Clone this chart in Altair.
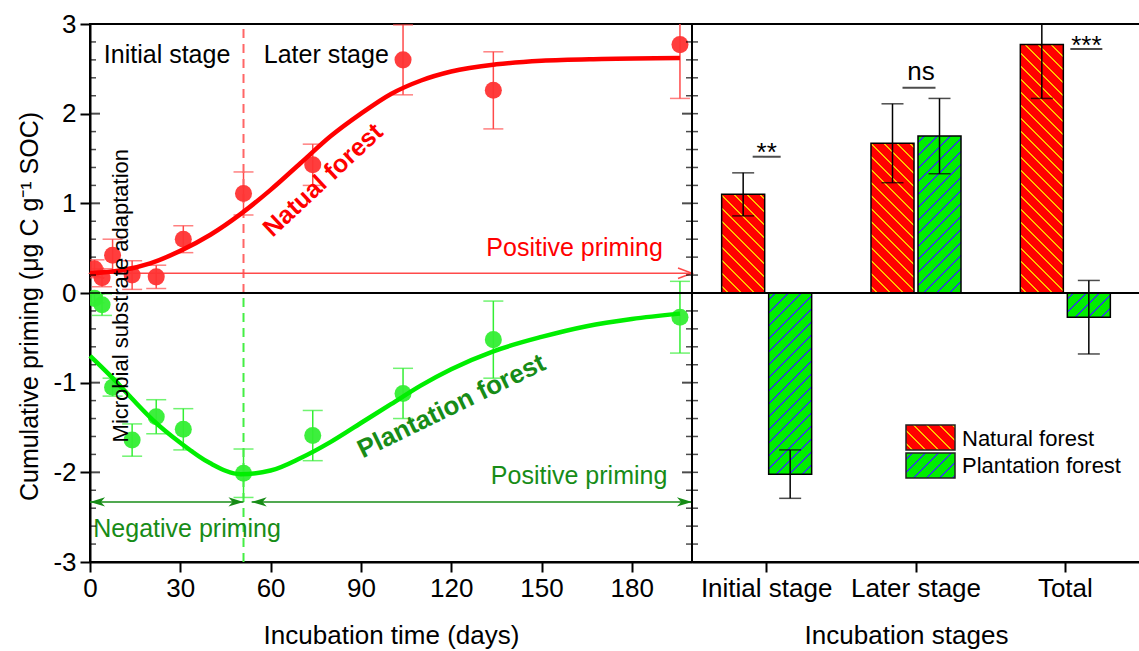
import altair as alt
import pandas as pd

FONT = "Liberation Sans"

# ---------------- data ----------------
days = [1.5, 4, 7.5, 14, 22, 31, 51, 74, 104, 134, 196]
natural_vals = [0.27, 0.17, 0.42, 0.20, 0.18, 0.60, 1.11, 1.43, 2.60, 2.26, 2.77]
natural_err = [0.10, 0.10, 0.18, 0.16, 0.13, 0.15, 0.24, 0.23, 0.39, 0.43, 0.60]
plant_vals = [-0.06, -0.13, -1.05, -1.64, -1.38, -1.52, -2.01, -1.59, -1.12, -0.52, -0.27]
plant_err = [0.05, 0.12, 0.10, 0.18, 0.19, 0.23, 0.27, 0.28, 0.28, 0.43, 0.40]

natural_curve_days = [0, 10, 20, 30, 40, 50, 60, 70, 80, 90, 100, 110, 120, 135, 150, 170, 196]
natural_curve_vals = [0.22, 0.25, 0.33, 0.47, 0.65, 0.88, 1.15, 1.45, 1.75, 2.00, 2.22, 2.37, 2.47, 2.55, 2.59, 2.61, 2.62]
plant_curve_days = [0, 7, 14, 21, 30, 40, 50, 60, 70, 80, 90, 100, 110, 120, 134, 150, 165, 180, 196]
plant_curve_vals = [-0.70, -0.93, -1.18, -1.42, -1.67, -1.90, -2.02, -1.98, -1.84, -1.66, -1.45,
                    -1.24, -1.03, -0.85, -0.65, -0.49, -0.37, -0.29, -0.23]

stage_split_day = 51
red_arrow_value = 0.22
green_arrow_value = -2.33
negative_span = [0, 51]
positive_span = [53.7, 200]

stages = ["Initial stage", "Later stage", "Total"]
forests = ["Natural forest", "Plantation forest"]
bar_natural = [1.10, 1.67, 2.77]
bar_natural_err = [0.24, 0.44, 0.60]
bar_plant = [-2.02, 1.75, -0.27]
bar_plant_err = [0.27, 0.42, 0.41]

sig_labels = ["**", "ns", "***"]
sig_text_value = [1.47, 2.375, 2.67]
sig_line_value = [1.52, 2.29, 2.72]

x_ticks = [0, 30, 60, 90, 120, 150, 180]
y_major = [-3, -2, -1, 0, 1, 2, 3]
y_minor = [-2.8, -2.6, -2.4, -2.2, -1.8, -1.6, -1.4, -1.2, -0.8, -0.6, -0.4, -0.2,
           0.2, 0.4, 0.6, 0.8, 1.2, 1.4, 1.6, 1.8, 2.2, 2.4, 2.6, 2.8]

# ---------------- styles ----------------
RED = "#ff0000"
RED_PT = "#ff3333"
RED_LIGHT = "#ff4a4a"
GREEN = "#00ee00"
GREEN_PT = "#33ee33"
DARK_GREEN = "#178c17"
HATCH_RED = "#ffc000"
HATCH_GREEN = "#2f45d8"
W_L, W_R, H = 602, 448, 538
BAR_W = 43.0

xs = alt.Scale(domain=[0, 200], nice=False, zero=False)
ys = alt.Scale(domain=[-3, 3], nice=False, zero=False)

x_axis_left = alt.Axis(values=x_ticks, title="Incubation time (days)", tickSize=10, tickWidth=2,
                       labelPadding=3, titlePadding=21, grid=False, labelFontSize=26, labelFlush=False,
                       titleFontSize=26, titleFontWeight="normal")
y_axis_left = alt.Axis(values=y_major, title="Cumulative priming (μg C g⁻¹ SOC)", tickSize=10,
                       tickWidth=2, labelPadding=4, titlePadding=10, grid=False, labelFontSize=26,
                       labelFlush=False, titleFontSize=25, titleFontWeight="normal",
                       labelExpr="'' + datum.value", titleY=282)


def xq(field="day"):
    return alt.X(f"{field}:Q", scale=xs, axis=x_axis_left)


def yq(field="value"):
    return alt.Y(f"{field}:Q", scale=ys, axis=y_axis_left)


def hatch(w, h, base, line, direction, period=13.0, lw=2.3):
    """Diagonal hatch drawn as a hard-stop linear gradient over the mark's box."""
    span = w + h
    k = span / (w * w + h * h)
    stops = [{"offset": 0, "color": base}]
    c = period / 2
    while c - lw / 2 < span:
        o0 = max((c - lw / 2) / span, 0)
        o1 = min((c + lw / 2) / span, 1)
        stops += [{"offset": o0, "color": base}, {"offset": o0, "color": line},
                  {"offset": o1, "color": line}, {"offset": o1, "color": base}]
        c += period
    stops.append({"offset": 1, "color": base})
    if direction == "down":
        return {"gradient": "linear", "x1": 0, "y1": 1, "x2": k * w, "y2": 1 - k * h, "stops": stops}
    return {"gradient": "linear", "x1": 0, "y1": 0, "x2": k * w, "y2": k * h, "stops": stops}


nat = pd.DataFrame({"day": days, "value": natural_vals,
                    "lo": [v - e for v, e in zip(natural_vals, natural_err)],
                    "hi": [v + e for v, e in zip(natural_vals, natural_err)]})
pla = pd.DataFrame({"day": days, "value": plant_vals,
                    "lo": [v - e for v, e in zip(plant_vals, plant_err)],
                    "hi": [v + e for v, e in zip(plant_vals, plant_err)]})
nat_curve = pd.DataFrame({"day": natural_curve_days, "value": natural_curve_vals})
pla_curve = pd.DataFrame({"day": plant_curve_days, "value": plant_curve_vals})

nat_err = alt.Chart(nat).mark_rule(color=RED_LIGHT, strokeWidth=1.5, clip=True).encode(x=xq(), y=yq("lo"), y2="hi:Q")
nat_caps_lo = alt.Chart(nat).mark_tick(orient="horizontal", size=20, thickness=1.5, color=RED_LIGHT, clip=True).encode(x=xq(), y=yq("lo"))
nat_caps_hi = alt.Chart(nat).mark_tick(orient="horizontal", size=20, thickness=1.5, color=RED_LIGHT, clip=True).encode(x=xq(), y=yq("hi"))
pla_err = alt.Chart(pla).mark_rule(color=GREEN_PT, strokeWidth=1.5, clip=True).encode(x=xq(), y=yq("lo"), y2="hi:Q")
pla_caps_lo = alt.Chart(pla).mark_tick(orient="horizontal", size=20, thickness=1.5, color=GREEN_PT, clip=True).encode(x=xq(), y=yq("lo"))
pla_caps_hi = alt.Chart(pla).mark_tick(orient="horizontal", size=20, thickness=1.5, color=GREEN_PT, clip=True).encode(x=xq(), y=yq("hi"))

nat_pts = alt.Chart(nat).mark_circle(size=290, color=RED_PT, opacity=0.95, clip=True).encode(x=xq(), y=yq())
pla_pts = alt.Chart(pla).mark_circle(size=290, color=GREEN_PT, opacity=0.95, clip=True).encode(x=xq(), y=yq())

nat_line = alt.Chart(nat_curve).mark_line(color=RED, strokeWidth=4.5, interpolate="monotone").encode(x=xq(), y=yq())
pla_line = alt.Chart(pla_curve).mark_line(color=GREEN, strokeWidth=4.5, interpolate="monotone").encode(x=xq(), y=yq())

split_red = alt.Chart(pd.DataFrame({"day": [stage_split_day], "a": [0], "b": [3]})).mark_rule(
    color="#ff6666", strokeWidth=2, strokeDash=[9, 6]).encode(x=xq(), y=yq("a"), y2="b:Q")
split_green = alt.Chart(pd.DataFrame({"day": [stage_split_day], "a": [-3], "b": [0]})).mark_rule(
    color="#44ee44", strokeWidth=2, strokeDash=[9, 6]).encode(x=xq(), y=yq("a"), y2="b:Q")

zero_df = pd.DataFrame({"value": [0]})
zero_left = alt.Chart(zero_df).mark_rule(color="black", strokeWidth=2).encode(y=yq())

# arrows
R_HEAD = "M-1.6,-0.6L0,0L-1.6,0.6"
L_HEAD = "M1.6,-0.6L0,0L1.6,0.6"
G_R_HEAD = "M0,0L-1.8,-0.55L-1.3,0L-1.8,0.55Z"
G_L_HEAD = "M0,0L1.8,-0.55L1.3,0L1.8,0.55Z"

red_shaft = alt.Chart(pd.DataFrame({"day": [0], "day2": [200], "value": [red_arrow_value]})).mark_rule(
    color=RED_LIGHT, strokeWidth=1.5).encode(x=xq(), x2="day2:Q", y=yq())
red_heads = alt.Chart(pd.DataFrame({"day": [0, 200], "value": [red_arrow_value] * 2,
                                    "shape": [L_HEAD, R_HEAD]})).mark_point(
    filled=False, color=RED_LIGHT, strokeWidth=1.5, size=306, opacity=1).encode(
    x=xq(), y=yq(), shape=alt.Shape("shape:N", scale=None))

g_shafts = alt.Chart(pd.DataFrame({"day": [negative_span[0], positive_span[0]],
                                   "day2": [negative_span[1], positive_span[1]],
                                   "value": [green_arrow_value] * 2})).mark_rule(
    color=DARK_GREEN, strokeWidth=1.5).encode(x=xq(), x2="day2:Q", y=yq())
g_heads = alt.Chart(pd.DataFrame({"day": [negative_span[0], negative_span[1], positive_span[0], positive_span[1]],
                                  "value": [green_arrow_value] * 4,
                                  "shape": [G_L_HEAD, G_R_HEAD, G_L_HEAD, G_R_HEAD]})).mark_point(
    filled=True, color=DARK_GREEN, size=280, opacity=1).encode(
    x=xq(), y=yq(), shape=alt.Shape("shape:N", scale=None))


def label(text, day, value, **kw):
    return alt.Chart(pd.DataFrame({"day": [day], "value": [value], "t": [text]})).mark_text(
        font=FONT, **kw).encode(x=xq(), y=yq(), text="t:N")


texts = [
    label("Initial stage", 25.6, 2.565, fontSize=25, baseline="alphabetic", align="center", color="black"),
    label("Later stage", 78.5, 2.565, fontSize=25, baseline="alphabetic", align="center", color="black"),
    label("Positive priming", 190.3, 0.41, fontSize=25, baseline="alphabetic", align="right", color=RED),
    label("Positive priming", 191.8, -2.13, fontSize=25, baseline="alphabetic", align="right", color=DARK_GREEN),
    label("Negative priming", 1.1, -2.72, fontSize=25, baseline="alphabetic", align="left", color=DARK_GREEN),
    label("Microbial substrate adaptation", 10.4, -0.03, fontSize=22, baseline="middle", align="center",
          angle=270, color="black"),
    label("Natual forest", 77.4, 1.26, fontSize=25, fontWeight="bold", baseline="middle", align="center",
          angle=317, color=RED),
    label("Plantation forest", 120.1, -1.265, fontSize=26, fontWeight="bold", baseline="middle",
          align="center", angle=334, color=DARK_GREEN),
]

tick_major = pd.DataFrame({"value": y_major})
tick_minor = pd.DataFrame({"value": y_minor})
in_ticks_left = [
    alt.Chart(tick_major).mark_tick(orient="horizontal", size=10, thickness=2, color="black").encode(x=alt.value(5), y=yq()),
    alt.Chart(tick_minor).mark_tick(orient="horizontal", size=6, thickness=1.5, color="black").encode(x=alt.value(3), y=yq()),
    alt.Chart(tick_major).mark_tick(orient="horizontal", size=10, thickness=2, color="black").encode(x=alt.value(W_L - 5), y=yq()),
    alt.Chart(tick_minor).mark_tick(orient="horizontal", size=6, thickness=1.5, color="black").encode(x=alt.value(W_L - 3), y=yq()),
]

left = alt.layer(
    nat_err, nat_caps_lo, nat_caps_hi, pla_err, pla_caps_lo, pla_caps_hi,
    split_red, split_green, zero_left, red_shaft, red_heads, g_shafts, g_heads,
    nat_pts, pla_pts, nat_line, pla_line, *texts, *in_ticks_left,
).properties(width=W_L, height=H)

# ---------------- right panel ----------------
px_per_unit = H / 6.0
bar_records = []
for forest, vals, errs in [(forests[0], bar_natural, bar_natural_err), (forests[1], bar_plant, bar_plant_err)]:
    for st, v, e in zip(stages, vals, errs):
        if forest == forests[0]:
            g = hatch(BAR_W, abs(v) * px_per_unit, RED, HATCH_RED, "down")
        else:
            g = hatch(BAR_W, abs(v) * px_per_unit, GREEN, HATCH_GREEN, "up")
        bar_records.append({"stage": st, "forest": forest, "value": v, "lo": v - e, "hi": v + e, "grad": g})
bars = alt.Data(values=bar_records)

xb = alt.Scale(domain=stages, paddingInner=0, paddingOuter=0)
xo = alt.Scale(domain=forests, paddingInner=0.085, paddingOuter=0.631)
x_axis_right = alt.Axis(title="Incubation stages", tickSize=10, tickWidth=2, labelAngle=0,
                        labelPadding=3, titlePadding=21, labelFontSize=26, titleFontSize=26,
                        titleFontWeight="normal", grid=False, titleX=214)


def xn():
    return alt.X("stage:N", sort=stages, scale=xb, axis=x_axis_right)


def yr(field="value"):
    return alt.Y(f"{field}:Q", scale=ys, axis=None)


xoff = alt.XOffset("forest:N", sort=forests, scale=xo)

bar_layer = alt.Chart(bars).mark_bar(stroke="black", strokeWidth=1.5).encode(
    x=xn(), xOffset=xoff, y=yr(),
    fill=alt.Fill("grad:N", scale=None),
)
bar_err = alt.Chart(bars).mark_rule(color="black", strokeWidth=1.5, clip=True).encode(
    x=xn(), xOffset=xoff, y=yr("lo"), y2="hi:Q")
bar_cap_lo = alt.Chart(bars).mark_tick(orient="horizontal", size=22, thickness=1.5, color="black", clip=True).encode(
    x=xn(), xOffset=xoff, y=yr("lo"))
bar_cap_hi = alt.Chart(bars).mark_tick(orient="horizontal", size=22, thickness=1.5, color="black", clip=True).encode(
    x=xn(), xOffset=xoff, y=yr("hi"))
zero_right = alt.Chart(zero_df).mark_rule(color="black", strokeWidth=2).encode(y=yr())

sig_dx = [0, 5, 21]
sig_line_dx = [0, 3, 21]
sig_line_w = [28, 33, 32]
sig_layers = []
for i, lab in enumerate(sig_labels):
    d = pd.DataFrame({"stage": [stages[i]], "value": [sig_text_value[i]], "line": [sig_line_value[i]], "t": [lab]})
    sig_layers.append(alt.Chart(d).mark_text(font=FONT, fontSize=26, baseline="alphabetic", align="center",
                                             dx=sig_dx[i], color="black").encode(x=xn(), y=yr(), text="t:N"))
    sig_layers.append(alt.Chart(d).mark_tick(orient="horizontal", size=sig_line_w[i], thickness=2,
                                             xOffset=sig_line_dx[i], color="black").encode(x=xn(), y=yr("line")))

legend_grad = [hatch(49, 25, RED, HATCH_RED, "down"), hatch(49, 25, GREEN, HATCH_GREEN, "up")]
legend_layers = []
for i, name in enumerate(forests):
    d = alt.Data(values=[{"name": name, "grad": legend_grad[i]}])
    legend_layers.append(alt.Chart(d).mark_rect(stroke="#222222", strokeWidth=1.5).encode(
        x=alt.value(214), x2=alt.value(263), y=alt.value(401 + 28 * i), y2=alt.value(426 + 28 * i),
        fill=alt.Fill("grad:N", scale=None)))
    legend_layers.append(alt.Chart(d).mark_text(font=FONT, fontSize=22, align="left", baseline="alphabetic",
                                                color="black").encode(
        x=alt.value(270), y=alt.value(422 + 27 * i), text="name:N"))

in_ticks_right = [
    alt.Chart(tick_major).mark_tick(orient="horizontal", size=6, thickness=1.5, color="black").encode(x=alt.value(3), y=yr()),
    alt.Chart(tick_minor).mark_tick(orient="horizontal", size=6, thickness=1.5, color="black").encode(x=alt.value(3), y=yr()),
]

right = alt.layer(
    bar_layer, bar_err, bar_cap_lo, bar_cap_hi, zero_right, *sig_layers, *legend_layers, *in_ticks_right
).properties(width=W_R, height=H)

chart = alt.hconcat(left, right, spacing=0, bounds="flush").properties(
    autosize=alt.AutoSizeParams(type="none"),
    padding={"left": 90, "top": 24, "right": 1139 - 90, "bottom": 651 - 24},
).configure(font=FONT).configure_view(stroke="black", strokeWidth=2).configure_axis(
    labelFont=FONT, titleFont=FONT, labelColor="black", titleColor="black", tickColor="black",
    domainColor="black", domainWidth=2, grid=False,
)

chart.save("out.html", embed_options={"renderer": "svg", "actions": False})
